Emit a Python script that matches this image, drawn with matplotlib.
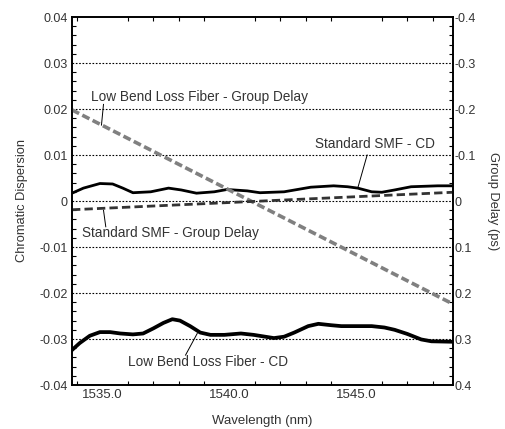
import matplotlib
matplotlib.use('Agg')
import matplotlib.pyplot as plt
from matplotlib.ticker import MultipleLocator

plt.rcParams['font.family'] = ['Liberation Sans', 'DejaVu Sans']

# data
wl_smf_cd = [1533.8, 1534.25, 1534.9, 1535.4, 1535.8, 1536.2, 1536.9, 1537.6, 1538.1, 1538.7,
             1539.4, 1539.9, 1540.7, 1541.2, 1542.15, 1543.2, 1544.1, 1544.65, 1545.05, 1545.6,
             1546.0, 1546.5, 1547.15, 1548.2, 1548.8]
smf_cd = [0.0017, 0.0028, 0.0038, 0.0037, 0.0028, 0.0018, 0.0020, 0.0028, 0.0024, 0.0017,
          0.0020, 0.0025, 0.0022, 0.0018, 0.0020, 0.0030, 0.0033, 0.0031, 0.0028, 0.0020,
          0.0019, 0.0024, 0.0031, 0.0033, 0.0033]

wl_lbl_cd = [1533.8, 1534.1, 1534.5, 1534.9, 1535.3, 1535.7, 1536.2, 1536.6, 1537.0, 1537.4,
             1537.75, 1538.05, 1538.45, 1538.85, 1539.25, 1539.8, 1540.45, 1540.95, 1541.75, 1542.15,
             1542.55, 1543.1, 1543.5, 1544.0, 1544.4, 1545.05, 1545.6, 1546.1, 1546.5, 1547.0,
             1547.55, 1547.95, 1548.8]
lbl_cd = [-0.0324, -0.0309, -0.0293, -0.0285, -0.0285, -0.0288, -0.0290, -0.0288, -0.0277, -0.0265,
          -0.0257, -0.0260, -0.0272, -0.0286, -0.0291, -0.0291, -0.0288, -0.0291, -0.0298, -0.0295,
          -0.0286, -0.0272, -0.0267, -0.0270, -0.0272, -0.0272, -0.0272, -0.0275, -0.0280, -0.0289,
          -0.0301, -0.0305, -0.0306]

wl_gd = [1533.8, 1548.8]
lbl_gd = [0.198, -0.224]
smf_gd = [-0.019, 0.019]

y_ticks = [-0.04, -0.03, -0.02, -0.01, 0, 0.01, 0.02, 0.03, 0.04]
y_labels = ['-0.04', '-0.03', '-0.02', '-0.01', '0', '0.01', '0.02', '0.03', '0.04']
gd_ticks = [-0.4, -0.3, -0.2, -0.1, 0, 0.1, 0.2, 0.3, 0.4]
gd_labels = ['0.4', '0.3', '0.2', '0.1', '0', '-0.1', '-0.2', '-0.3', '-0.4']
x_ticks = [1535.0, 1540.0, 1545.0]
x_labels = ['1535.0', '1540.0', '1545.0']

fig = plt.figure(figsize=(5.06, 4.29), dpi=100)
ax = fig.add_axes([72/506, 1-385/429, (453-72)/506, (385-17)/429])
ax2 = ax.twinx()

ax.set_xlim(1533.8, 1548.8)
ax.set_ylim(-0.04, 0.04)
ax2.set_ylim(-0.4, 0.4)

ax.plot(wl_smf_cd, smf_cd, color='black', lw=2)
ax.plot(wl_lbl_cd, lbl_cd, color='black', lw=2.7)
ax2.plot(wl_gd, lbl_gd, color='#808080', lw=2.6, dashes=(2.2, 1.0))
ax2.plot(wl_gd, smf_gd, color='#333333', lw=2, dashes=(3, 1.5))

for yv in y_ticks[1:-1]:
    ax.axhline(yv, color='black', lw=0.8, ls=(0, (1.5, 1.5)), zorder=0)

tc = '#333333'
ax.set_yticks(y_ticks)
ax.set_yticklabels(y_labels)
ax.set_xticks(x_ticks)
ax.set_xticklabels(x_labels)
ax.xaxis.set_minor_locator(MultipleLocator(1))
ax.yaxis.set_minor_locator(MultipleLocator(0.002))
ax.tick_params(which='both', direction='in', top=True, labelsize=9, labelcolor=tc)
ax.tick_params(axis='x', labelsize=9.5)
ax.tick_params(which='major', length=0, pad=3)
ax.tick_params(which='minor', length=3, width=0.8)

ax2.set_yticks(gd_ticks)
ax2.set_yticklabels(gd_labels)
ax2.yaxis.set_minor_locator(MultipleLocator(0.02))
ax2.tick_params(which='major', length=0, pad=1, labelsize=9, labelcolor=tc)
ax2.tick_params(which='minor', direction='in', length=3, width=0.8)

for sp in list(ax.spines.values()) + list(ax2.spines.values()):
    sp.set_linewidth(1.2)

ax.set_xlabel('Wavelength (nm)', fontsize=9.5, color=tc, labelpad=10)
ax.set_ylabel('Chromatic Dispersion', fontsize=9.3, color=tc, labelpad=8)
ax2.set_ylabel('Group Delay (ps)', fontsize=9.3, color=tc, rotation=270, labelpad=17)

# annotations
fs = 9.8
ax.text(1534.55, 0.0226, 'Low Bend Loss Fiber - Group Delay', fontsize=fs, color=tc, va='center')
ax.plot([1535.04, 1534.96], [0.0210, 0.0165], color='black', lw=0.7)
ax.text(1548.1, 0.0124, 'Standard SMF - CD', fontsize=fs, color=tc, va='center', ha='right')
ax.plot([1545.42, 1545.06], [0.0100, 0.0030], color='black', lw=0.7)
ax.text(1534.2, -0.0070, 'Standard SMF - Group Delay', fontsize=fs, color=tc, va='center')
ax.plot([1535.04, 1535.13], [-0.0020, -0.0056], color='black', lw=0.7)
ax.text(1536.0, -0.0349, 'Low Bend Loss Fiber - CD', fontsize=fs, color=tc, va='center')
ax.plot([1538.73, 1538.27], [-0.0288, -0.0335], color='black', lw=0.7)

fig.savefig('out.png', dpi=100)
